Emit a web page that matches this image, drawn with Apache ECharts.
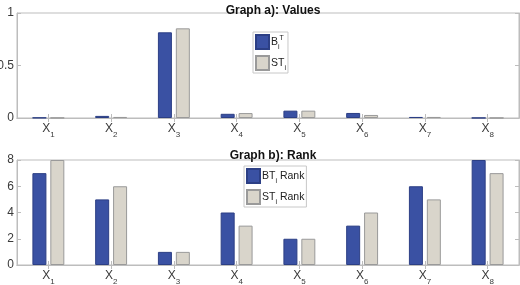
<!DOCTYPE html>
<html>
<head>
<meta charset="utf-8">
<script src="https://cdn.jsdelivr.net/npm/echarts@6/dist/echarts.min.js"></script>
<style>
  html, body { margin: 0; padding: 0; background: #fff; }
  #chart { width: 520px; height: 285px; }
</style>
</head>
<body>
<div id="chart"></div>
<script>
var categories = ['1', '2', '3', '4', '5', '6', '7', '8']
var btValues = [0.003, 0.02, 0.816, 0.04, 0.07, 0.048, 0.01, 0.001]
var stValues = [0.002, 0.01, 0.854, 0.047, 0.07, 0.029, 0.01, 0.001]
var btRank = [7, 5, 1, 4, 2, 3, 6, 8]
var stRank = [8, 6, 1, 3, 2, 4, 5, 7]

var blue = '#3a51a3'
var grey = '#d9d5cb'
var axisColor = '#bdbdbd'
var labelColor = '#3a3a3a'
var font = 'Liberation Sans'

var myChart = echarts.init(document.getElementById('chart'))

var xLabel = {
  color: labelColor,
  fontFamily: font,
  margin: 5,
  interval: 0,
  formatter: function(v) {
    return '{x|X}{s|' + v + '}'
  },
  rich: {
    x: { fontSize: 12, fontFamily: font, color: labelColor, lineHeight: 14, verticalAlign: 'top' },
    s: { fontSize: 8, fontFamily: font, color: labelColor, lineHeight: 9, padding: [8, 0, 0, 0], verticalAlign: 'top' }
  }
}

function catAxis(grid, pos, show) {
  return {
    type: 'category',
    gridIndex: grid,
    position: pos,
    data: categories,
    axisLine: { show: true, lineStyle: { color: axisColor } },
    axisTick: { show: true, inside: true, alignWithLabel: true, length: 4, lineStyle: { color: axisColor } },
    axisLabel: show ? xLabel : { show: false },
    splitLine: { show: false }
  }
}

function valAxis(grid, pos, max, step, show) {
  return {
    type: 'value',
    gridIndex: grid,
    position: pos,
    min: 0,
    max: max,
    interval: step,
    axisLine: { show: true, lineStyle: { color: axisColor } },
    axisTick: { show: true, inside: true, length: 4, lineStyle: { color: axisColor } },
    axisLabel: show ? { color: labelColor, fontFamily: font, fontSize: 12, margin: 3 } : { show: false },
    splitLine: { show: false }
  }
}

var legendRich = {
  b: { fontSize: 10.5, fontFamily: font, color: '#222', lineHeight: 14, padding: [2, 0, 0, 0], verticalAlign: 'top' },
  sup: { fontSize: 7, fontFamily: font, color: '#222', lineHeight: 8, verticalAlign: 'top' },
  sub: { fontSize: 7, fontFamily: font, color: '#222', lineHeight: 8, padding: [9, 0, 0, 0], verticalAlign: 'top' }
}

var legendText = {
  'B_T': '{b|B}{sub|i}{sup|T}',
  'ST': '{b|ST}{sub|i}',
  'BT Rank': '{b|BT}{sub|i}{b| Rank}',
  'ST Rank': '{b|ST}{sub|i}{b| Rank}'
}

function legend(names, left, top) {
  return {
    orient: 'vertical',
    left: left,
    top: top,
    data: names,
    icon: 'rect',
    itemWidth: 13,
    itemHeight: 14,
    itemGap: 4,
    padding: [2, 2, 1, 2],
    borderColor: '#c8c8c8',
    borderWidth: 1,
    borderRadius: 0,
    backgroundColor: '#fff',
    selectedMode: false,
    textStyle: { rich: legendRich, padding: [0, 0, 0, -3] },
    formatter: function(name) {
      return legendText[name]
    }
  }
}

function barSeries(name, x, y, data, color, border) {
  return {
    name: name,
    type: 'bar',
    xAxisIndex: x,
    yAxisIndex: y,
    data: data,
    barWidth: 14,
    barGap: '28%',
    itemStyle: { color: color, borderColor: border, borderWidth: 1 }
  }
}

var option = {
  animation: false,
  title: [
    {
      text: 'Graph a): Values',
      left: 268,
      top: 0,
      textAlign: 'center',
      textStyle: { fontFamily: font, fontWeight: 'bold', fontSize: 12, color: '#111' }
    },
    {
      text: 'Graph b): Rank',
      left: 268,
      top: 145,
      textAlign: 'center',
      textStyle: { fontFamily: font, fontWeight: 'bold', fontSize: 12, color: '#111' }
    }
  ],
  legend: [
    legend(['B_T', 'ST'], 253, 32),
    legend(['BT Rank', 'ST Rank'], 244, 166)
  ],
  grid: [
    { left: 17, right: 1, top: 13, height: 105, show: true, borderColor: axisColor, borderWidth: 1, outerBoundsMode: 'none' },
    { left: 17, right: 1, top: 160, height: 105, show: true, borderColor: axisColor, borderWidth: 1, outerBoundsMode: 'none' }
  ],
  xAxis: [
    catAxis(0, 'bottom', true),
    catAxis(0, 'top', false),
    catAxis(1, 'bottom', true),
    catAxis(1, 'top', false)
  ],
  yAxis: [
    valAxis(0, 'left', 1, 0.5, true),
    valAxis(0, 'right', 1, 0.5, false),
    valAxis(1, 'left', 8, 2, true),
    valAxis(1, 'right', 8, 2, false)
  ],
  series: [
    barSeries('B_T', 0, 0, btValues, blue, '#2c3f85'),
    barSeries('ST', 0, 0, stValues, grey, '#9a9a9a'),
    barSeries('BT Rank', 2, 2, btRank, blue, '#2c3f85'),
    barSeries('ST Rank', 2, 2, stRank, grey, '#9a9a9a')
  ]
}

myChart.setOption(option)
</script>
</body>
</html>
